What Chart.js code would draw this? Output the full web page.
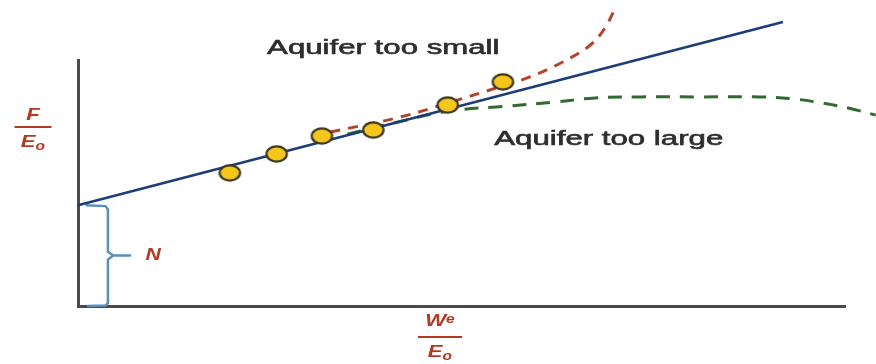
<!DOCTYPE html>
<html>
<head>
<meta charset="utf-8">
<script src="https://cdn.jsdelivr.net/npm/chart.js@4/dist/chart.umd.min.js"></script>
<style>
  html, body { margin: 0; padding: 0; background: #ffffff; }
  #wrap { width: 876px; height: 364px; position: relative; }
</style>
</head>
<body>
<div id="wrap"><canvas id="c" width="876" height="364"></canvas></div>
<script>
// Material-balance plot for a water-drive reservoir: F/Eo against We/Eo.
// Measured points
const pointX = [1.98, 2.59, 3.18, 3.85, 4.82, 5.54];
const pointY = [5.41, 6.18, 6.91, 7.15, 8.17, 9.11];

// Straight-line fit; its intercept on the F/Eo axis is N
const fitX = [0, 9.19];
const fitY = [4.10, 11.54];

// Curve bending upward when the aquifer model is too small
const smallX = [3.29, 4.20, 4.82, 5.57, 5.89, 6.32, 6.68, 6.87, 6.98];
const smallY = [7.07, 7.68, 8.25, 8.98, 9.31, 9.92, 10.61, 11.30, 11.95];

// Curve bending downward when the aquifer model is too large
const largeX = [3.51, 4.20, 4.85, 5.63, 6.22, 6.74, 7.33, 8.11, 8.89, 9.35, 9.70, 10.04, 10.40];
const largeY = [6.98, 7.50, 7.93, 8.13, 8.29, 8.46, 8.50, 8.50, 8.50, 8.41, 8.25, 8.05, 7.76];

// Curve labels and where they sit
const curveLabels = ["Aquifer too small", "Aquifer too large"];
const curveLabelX = [3.98, 6.92];
const curveLabelY = [10.45, 6.75];

// Axis ranges
const xRange = [0, 10];
const yRange = [0, 10];

const N = fitY[0];

// Brace from the origin up to the intercept N
const braceX = [0.10, 0.36, 0.39, 0.39, 0.46, 0.68, 0.46, 0.39, 0.39, 0.36, 0.12];
const braceY = [N, N - 0.04, N - 0.18, N / 2 + 0.16, N / 2, N / 2, N / 2, N / 2 - 0.16, 0.12, 0.02, 0];

const pts = (xs, ys) => xs.map((x, i) => ({ x: x, y: ys[i] }));

// Yellow marker, slightly wider than tall
const marker = document.createElement('canvas');
marker.width = 25; marker.height = 20;
(function () {
  const m = marker.getContext('2d');
  m.beginPath();
  m.ellipse(12.5, 10, 10.2, 7.6, 0, 0, Math.PI * 2);
  m.fillStyle = '#f7c61a';
  m.fill();
  m.lineWidth = 2.2;
  m.strokeStyle = '#3b3722';
  m.stroke();
})();

const RED = '#b23a22';
const TEXT = '#2e2e2e';
const BIG = 'italic bold 17px "Liberation Sans", Arial, sans-serif';
const SMALL = 'italic bold 12px "Liberation Sans", Arial, sans-serif';

// Draws a horizontally stretched string at a pixel position
function wideText(ctx, str, px, py, font, color, stretch, align, baseline, weight) {
  ctx.save();
  ctx.font = font;
  ctx.fillStyle = color;
  ctx.textAlign = align || 'center';
  ctx.textBaseline = baseline || 'middle';
  ctx.translate(px, py);
  ctx.scale(stretch, 1);
  ctx.fillText(str, 0, 0);
  if (weight) {
    ctx.strokeStyle = color;
    ctx.lineWidth = weight;
    ctx.strokeText(str, 0, 0);
  }
  ctx.restore();
}

// Fraction label: numerator (with optional subscript) over a bar over "E" sub "o"
function fraction(ctx, cx, barY, num, numSub, barW, numBase, denBase, stretch) {
  ctx.save();
  ctx.font = BIG;
  const nw = ctx.measureText(num).width * stretch;
  ctx.font = SMALL;
  const sw = numSub ? ctx.measureText(numSub).width * stretch : 0;
  let x0 = cx - (nw + sw) / 2;
  wideText(ctx, num, x0, barY - numBase, BIG, RED, stretch, 'left', 'alphabetic');
  if (numSub) wideText(ctx, numSub, x0 + nw, barY - numBase - 3, SMALL, RED, stretch, 'left', 'alphabetic');

  ctx.strokeStyle = RED;
  ctx.lineWidth = 2;
  ctx.beginPath();
  ctx.moveTo(cx - barW / 2, barY);
  ctx.lineTo(cx + barW / 2, barY);
  ctx.stroke();

  ctx.font = BIG;
  const ew = ctx.measureText('E').width * stretch;
  ctx.font = SMALL;
  const ow = ctx.measureText('o').width * stretch;
  x0 = cx - (ew + ow) / 2;
  wideText(ctx, 'E', x0, barY + denBase, BIG, RED, stretch, 'left', 'alphabetic');
  wideText(ctx, 'o', x0 + ew, barY + denBase + 3, SMALL, RED, stretch, 'left', 'alphabetic');
  ctx.restore();
}

const labelsPlugin = {
  id: 'plotLabels',
  afterDatasetsDraw(chart) {
    const ctx = chart.ctx;
    const xs = chart.scales.x, ys = chart.scales.y;
    const font = '20px "Liberation Sans", Arial, sans-serif';
    curveLabels.forEach((t, i) => {
      wideText(ctx, t, xs.getPixelForValue(curveLabelX[i]), ys.getPixelForValue(curveLabelY[i]), font, TEXT, 1.56, 'center', 'middle', 0.6);
    });
    // N beside the brace
    wideText(ctx, 'N', xs.getPixelForValue(0.98), ys.getPixelForValue(N / 2), BIG, RED, 1.25);
    // axis titles
    const area = chart.chartArea;
    fraction(ctx, 33, 127, 'F', '', 37, 7, 20, 1.3);
    fraction(ctx, 440, area.bottom + 31, 'W', 'e', 44, 11, 20, 1.3);
  }
};

// Fixes an axis range after the data limits are found, so curve points
// past the range are still drawn
const fixRange = (range) => (scale) => { scale.min = range[0]; scale.max = range[1]; };

new Chart(document.getElementById('c'), {
  type: 'scatter',
  data: {
    datasets: [
      {
        label: 'Data',
        data: pts(pointX, pointY),
        pointStyle: marker,
        showLine: false,
        order: 0
      },
      {
        label: 'Fit',
        data: pts(fitX, fitY),
        showLine: true,
        borderColor: '#1d3d78',
        borderWidth: 2.6,
        pointRadius: 0,
        order: 1
      },
      {
        label: 'Aquifer too small',
        data: pts(smallX, smallY),
        showLine: true,
        borderColor: '#b2442c',
        borderWidth: 3,
        borderDash: [10, 8],
        tension: 0.4,
        pointRadius: 0,
        order: 2
      },
      {
        label: 'Aquifer too large',
        data: pts(largeX, largeY),
        showLine: true,
        borderColor: '#2f6a2f',
        borderWidth: 3,
        borderDash: [14, 10],
        tension: 0.4,
        pointRadius: 0,
        order: 3
      },
      {
        label: 'N',
        data: pts(braceX, braceY),
        showLine: true,
        borderColor: '#5a8fbb',
        borderWidth: 2.5,
        borderJoinStyle: 'round',
        tension: 0,
        pointRadius: 0,
        order: 4
      }
    ]
  },
  options: {
    responsive: false,
    animation: false,
    events: [],
    clip: false,
    layout: { padding: { left: 78, right: 31, top: 60, bottom: 58 } },
    plugins: { legend: { display: false }, tooltip: { enabled: false } },
    elements: { line: { fill: false } },
    scales: {
      x: {
        type: 'linear',
        afterDataLimits: fixRange(xRange),
        grid: { display: false, drawTicks: false },
        ticks: { display: false },
        border: { display: true, color: '#4a4a4a', width: 3 }
      },
      y: {
        type: 'linear',
        afterDataLimits: fixRange(yRange),
        grid: { display: false, drawTicks: false },
        ticks: { display: false },
        border: { display: true, color: '#4a4a4a', width: 3 }
      }
    }
  },
  plugins: [labelsPlugin]
});
</script>
</body>
</html>
